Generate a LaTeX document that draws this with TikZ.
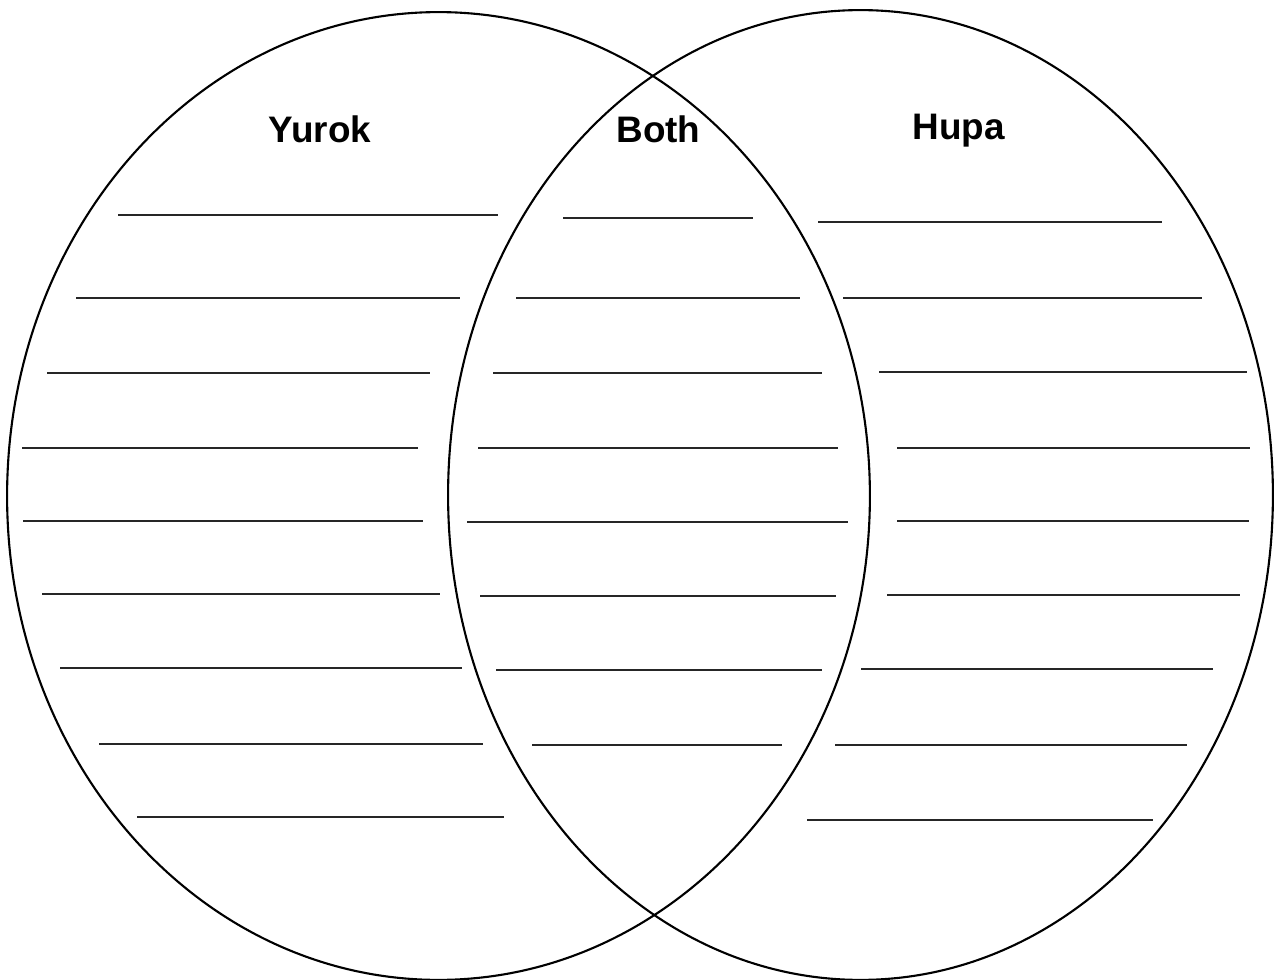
\documentclass[tikz,border=0pt]{standalone}
\usepackage{fontspec}
\setmainfont{Liberation Sans}
\usepackage{tikz}
\usetikzlibrary{shapes.geometric}

\tikzset{
    setname/.style={anchor=base, font=\fontsize{21}{25}\selectfont\bfseries},
    rule/.style={line width=0.6pt, black!85},
}

\begin{document}
\begin{tikzpicture}[x=0.02cm, y=-0.02cm]
    \useasboundingbox (0,0) rectangle (1276,980);

    \node[ellipse, draw, line width=1.2pt, inner sep=0pt, minimum width=17.26cm, minimum height=19.36cm] (yurok) at (438.5,496) {};
    \node[ellipse, draw, line width=1.2pt, inner sep=0pt, minimum width=16.5cm, minimum height=19.4cm] (hupa) at (860.5,495) {};

    \node[setname] (yuroklabel) at (320,143) {Yurok};
    \node[setname] (bothlabel) at (658.5,143) {Both};
    \node[setname] (hupalabel) at (958.5,140) {Hupa};

    % Yurok lines
    \draw[rule] (118,215) -- (498,215);
    \draw[rule] (76,298) -- (460,298);
    \draw[rule] (47,373) -- (430,373);
    \draw[rule] (22,448) -- (418,448);
    \draw[rule] (23,521) -- (423,521);
    \draw[rule] (42,594) -- (440,594);
    \draw[rule] (60,668) -- (462,668);
    \draw[rule] (99,744) -- (483,744);
    \draw[rule] (137,817) -- (504,817);

    % Both lines
    \draw[rule] (563,218) -- (753,218);
    \draw[rule] (516,298) -- (800,298);
    \draw[rule] (493,373) -- (822,373);
    \draw[rule] (478,448) -- (838,448);
    \draw[rule] (467,522) -- (848,522);
    \draw[rule] (480,596) -- (836,596);
    \draw[rule] (496,670) -- (822,670);
    \draw[rule] (532,745) -- (782,745);

    % Hupa lines
    \draw[rule] (818,222) -- (1162,222);
    \draw[rule] (843,298) -- (1202,298);
    \draw[rule] (879,372) -- (1247,372);
    \draw[rule] (897,448) -- (1250,448);
    \draw[rule] (897,521) -- (1249,521);
    \draw[rule] (887,595) -- (1240,595);
    \draw[rule] (861,669) -- (1213,669);
    \draw[rule] (835,745) -- (1187,745);
    \draw[rule] (807,820) -- (1153,820);
\end{tikzpicture}
\end{document}
